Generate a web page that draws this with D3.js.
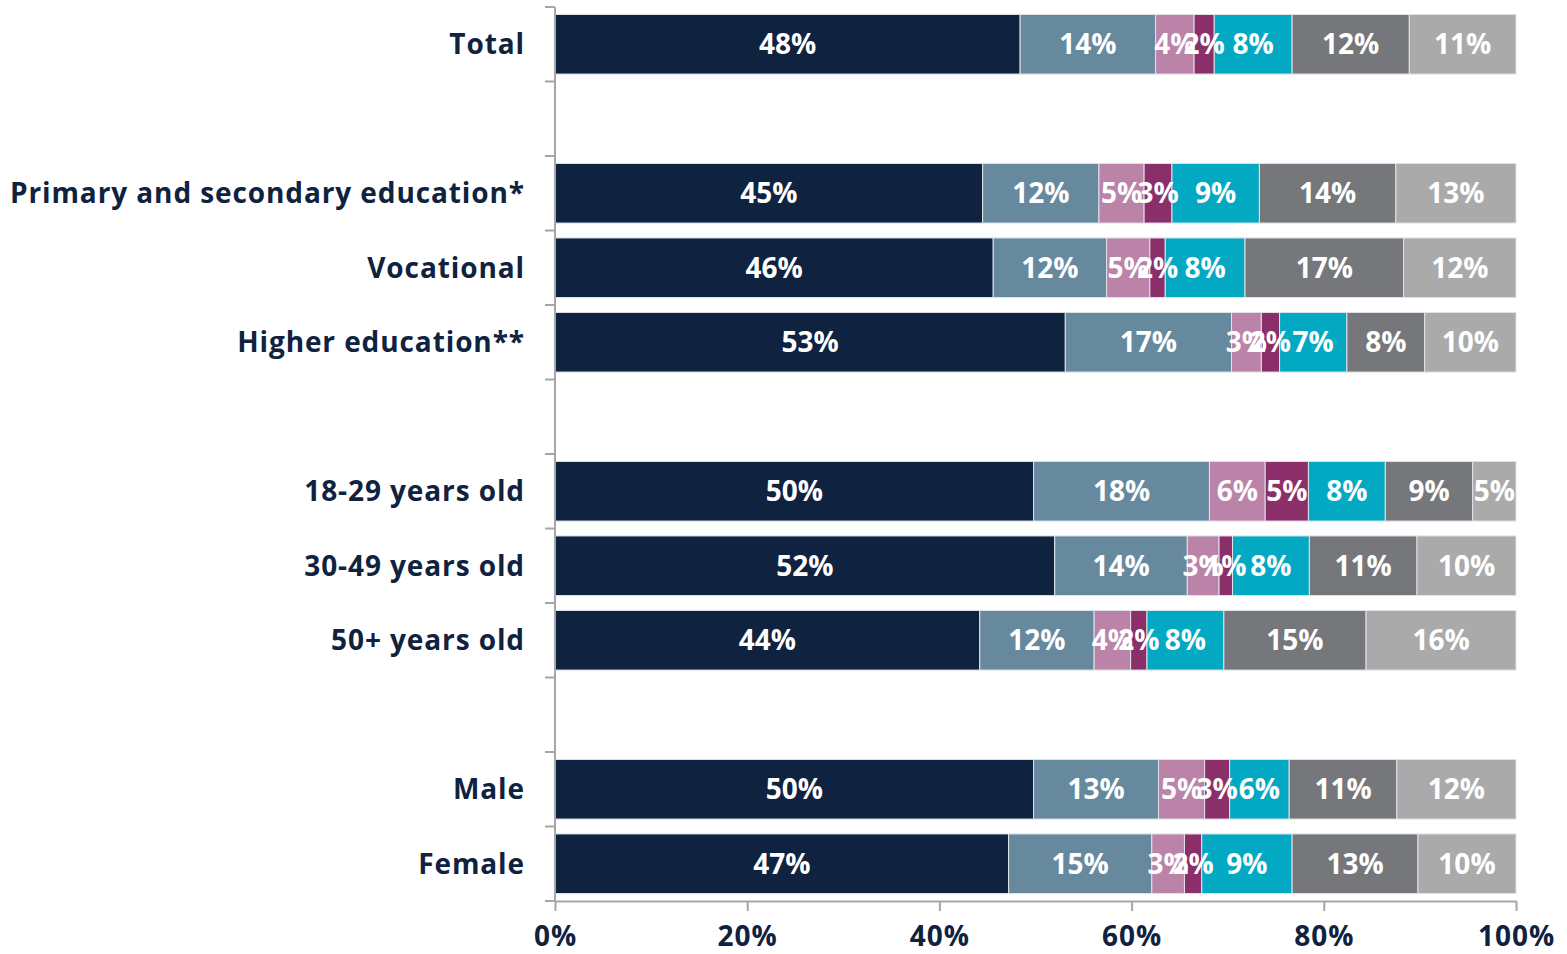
<!DOCTYPE html>
<html>
<meta charset="utf-8">
<script src="https://d3js.org/d3.v7.min.js"></script>
<head>
<style>
body { margin: 0; background: #ffffff; }
text { font-family: "Open Sans", sans-serif; }
</style>
</head>
<body>
<div id="chart"></div>
<script>

// row labels and the slot (0-11) each row takes; empty slots are gaps
var rows = ["Total", "Primary and secondary education*", "Vocational", "Higher education**",
            "18-29 years old", "30-49 years old", "50+ years old", "Male", "Female"]
var slots = [0, 2, 3, 4, 6, 7, 8, 10, 11]

// one array per series, in row order (percent)
var s1 = [48.4, 44.5, 45.6, 53.1, 49.8, 52.0, 44.2, 49.8, 47.2]
var s2 = [14.1, 12.1, 11.8, 17.3, 18.3, 13.8, 11.9, 13.0, 14.9]
var s3 = [ 4.0,  4.7,  4.5,  3.1,  5.8,  3.3,  3.8,  4.8,  3.4]
var s4 = [ 2.1,  2.9,  1.6,  1.9,  4.5,  1.4,  1.7,  2.6,  1.8]
var s5 = [ 8.1,  9.1,  8.3,  7.0,  8.0,  8.0,  8.0,  6.2,  9.4]
var s6 = [12.2, 14.2, 16.5,  8.1,  9.1, 11.2, 14.8, 11.2, 13.1]
var s7 = [11.1, 12.5, 11.7,  9.5,  4.5, 10.3, 15.6, 12.4, 10.2]

var xTicks = [0, 20, 40, 60, 80, 100]

var seriesKeys = ["s1", "s2", "s3", "s4", "s5", "s6", "s7"]
var colors = ["#0f2240", "#67899e", "#bb83a8", "#8b2f6b", "#03a9c3", "#76777b", "#aaaaab"]

var width = 1567
    height = 954
    margin = {top: 7, right: 51, bottom: 53, left: 555}

var table = rows.map(function(r, i) {
  return {row: r, slot: slots[i], s1: s1[i], s2: s2[i], s3: s3[i], s4: s4[i],
          s5: s5[i], s6: s6[i], s7: s7[i]}
})

var stacked = d3.stack().keys(seriesKeys)(table)

var svg = d3.select("#chart")
  .append("svg")
    .attr("width", width)
    .attr("height", height)

var x = d3.scaleLinear()
  .domain([0, 100])
  .range([margin.left, width - margin.right])

var y = d3.scaleBand()
  .domain(d3.range(12))
  .range([margin.top, height - margin.bottom])
  .paddingInner(0.2)
  .paddingOuter(0.1)

// bars
svg.append("g")
  .selectAll("g")
  .data(stacked)
  .join("g")
    .attr("fill", function(d, i) { return colors[i] })
  .selectAll("rect")
  .data(function(d) { return d })
  .join("rect")
    .attr("x", function(d) { return x(d[0]) })
    .attr("y", function(d) { return y(d.data.slot) })
    .attr("width", function(d) { return x(d[1]) - x(d[0]) })
    .attr("height", y.bandwidth())
    .attr("stroke", "#dfe4ea")
    .attr("stroke-width", 1)

// value labels
svg.append("g")
  .selectAll("g")
  .data(stacked)
  .join("g")
  .selectAll("text")
  .data(function(d) { return d })
  .join("text")
    .attr("x", function(d) { return (x(d[0]) + x(d[1])) / 2 })
    .attr("y", function(d) { return y(d.data.slot) + y.bandwidth() / 2 })
    .attr("dy", "0.36em")
    .attr("text-anchor", "middle")
    .attr("fill", "white")
    .attr("font-size", "28px")
    .attr("font-weight", 700)
    .text(function(d) { return Math.round(d[1] - d[0]) + "%" })

// left axis line with ticks at the slot edges
var slotEdges = d3.range(13).map(function(i) {
  return margin.top + i * (height - margin.top - margin.bottom) / 12
})
svg.append("line")
  .attr("x1", margin.left).attr("x2", margin.left)
  .attr("y1", margin.top).attr("y2", height - margin.bottom)
  .attr("stroke", "#a6a6a6").attr("stroke-width", 2)
svg.append("g")
  .selectAll("line")
  .data(slotEdges)
  .join("line")
    .attr("x1", margin.left - 10).attr("x2", margin.left)
    .attr("y1", function(d) { return d }).attr("y2", function(d) { return d })
    .attr("stroke", "#a6a6a6").attr("stroke-width", 2)

// row labels
svg.append("g")
  .selectAll("text")
  .data(table)
  .join("text")
    .attr("x", margin.left - 30)
    .attr("y", function(d) { return y(d.slot) + y.bandwidth() / 2 })
    .attr("dy", "0.36em")
    .attr("text-anchor", "end")
    .attr("fill", "#0f2240")
    .attr("font-size", "28px")
    .attr("font-weight", 700)
    .attr("letter-spacing", "0.9px")
    .text(function(d) { return d.row })

// bottom axis
var xAxis = svg.append("g")
  .attr("transform", "translate(0," + (height - margin.bottom) + ")")
  .call(d3.axisBottom(x).tickValues(xTicks).tickSize(10).tickSizeOuter(0)
    .tickFormat(function(d) { return d + "%" }))
xAxis.select(".domain").attr("stroke", "#a6a6a6").attr("stroke-width", 2)
xAxis.selectAll(".tick line").attr("stroke", "#a6a6a6").attr("stroke-width", 2)
xAxis.selectAll(".tick text")
  .attr("fill", "#0f2240")
  .attr("font-size", "28px")
  .attr("font-weight", 700)
  .attr("letter-spacing", "1px")
  .attr("dy", "1.15em")

</script>
</body>
</html>
